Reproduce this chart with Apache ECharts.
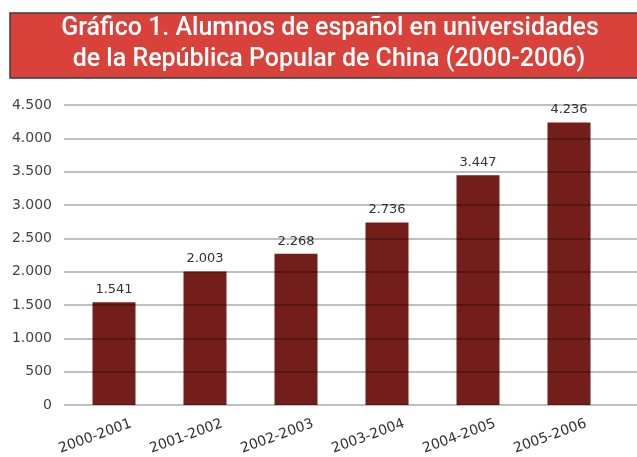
<!DOCTYPE html>
<html>
<head>
<meta charset="utf-8">
<script src="https://cdn.jsdelivr.net/npm/echarts@6/dist/echarts.min.js"></script>
<style>
  html, body { margin: 0; padding: 0; background: #fff; }
  #chart { width: 637px; height: 457px; }
</style>
</head>
<body>
<div id="chart"></div>
<script>
// curso académico
var cursos = ['2000-2001', '2001-2002', '2002-2003', '2003-2004', '2004-2005', '2005-2006'];
// alumnos de español
var alumnos = [1541, 2003, 2268, 2736, 3447, 4236];
// eje Y
var yMin = 0;
var yMax = 4500;
var yStep = 500;

var titulo1 = 'Gráfico 1. Alumnos de español en universidades';
var titulo2 = 'de la República Popular de China (2000-2006)';

// 1541 -> "1.541"
function miles(v) {
  return String(v).replace(/\B(?=(\d{3})+(?!\d))/g, '.');
}

var chart = echarts.init(document.getElementById('chart'), null, { renderer: 'canvas' });

var gridTop = 105;
var gridBottom = 52;

var option = {
  animation: false,
  backgroundColor: '#ffffff',
  graphic: [
    {
      type: 'rect',
      shape: { x: 10, y: 13, width: 640, height: 65 },
      style: { fill: '#d8423a', stroke: '#3d3d3d', lineWidth: 1.5 },
      z: 1
    },
    {
      type: 'text',
      x: 330, y: 29,
      style: {
        text: titulo1, fill: '#ffffff',
        font: '500 25px Roboto', align: 'center', verticalAlign: 'middle'
      },
      z: 2
    },
    {
      type: 'text',
      x: 329, y: 60,
      style: {
        text: titulo2, fill: '#ffffff',
        font: '500 25px Roboto', align: 'center', verticalAlign: 'middle'
      },
      z: 2
    }
  ],
  grid: [
    // lineas de fondo, hasta el borde derecho
    { left: 64, right: 0, top: gridTop, bottom: gridBottom },
    // barras
    { left: 68.5, right: 22.5, top: gridTop, bottom: gridBottom },
    // etiquetas del eje X (desplazadas)
    { left: 85.5, right: 5.5, top: gridTop, bottom: gridBottom }
  ],
  xAxis: [
    { gridIndex: 0, type: 'value', min: 0, max: 1, show: false },
    {
      gridIndex: 1, type: 'category', data: cursos,
      axisLine: { show: false }, axisTick: { show: false }, axisLabel: { show: false }
    },
    {
      gridIndex: 2, type: 'category', data: cursos,
      axisLine: { show: false }, axisTick: { show: false },
      axisLabel: {
        rotate: 20, margin: 24, color: '#333',
        fontFamily: 'DejaVu Sans', fontSize: 14
      }
    }
  ],
  yAxis: [
    {
      gridIndex: 0, type: 'value', min: yMin, max: yMax, interval: yStep, z: 5,
      axisLine: { show: false }, axisTick: { show: false },
      axisLabel: {
        margin: 12, color: '#444', fontFamily: 'DejaVu Sans', fontSize: 14,
        formatter: function (v) { return miles(v); }
      },
      splitLine: { lineStyle: { color: 'rgba(0,0,0,0.33)', width: 1.5 } }
    },
    { gridIndex: 1, type: 'value', min: yMin, max: yMax, interval: yStep, show: false },
    { gridIndex: 2, type: 'value', min: yMin, max: yMax, interval: yStep, show: false }
  ],
  series: [
    {
      type: 'bar',
      xAxisIndex: 1,
      yAxisIndex: 1,
      data: alumnos,
      barWidth: 43,
      z: 2,
      itemStyle: { color: '#731e1b' },
      label: {
        show: true, position: 'top', distance: 6,
        color: '#333', fontFamily: 'DejaVu Sans', fontSize: 13,
        formatter: function (p) { return miles(p.value); }
      }
    }
  ]
};

chart.setOption(option);
</script>
</body>
</html>
